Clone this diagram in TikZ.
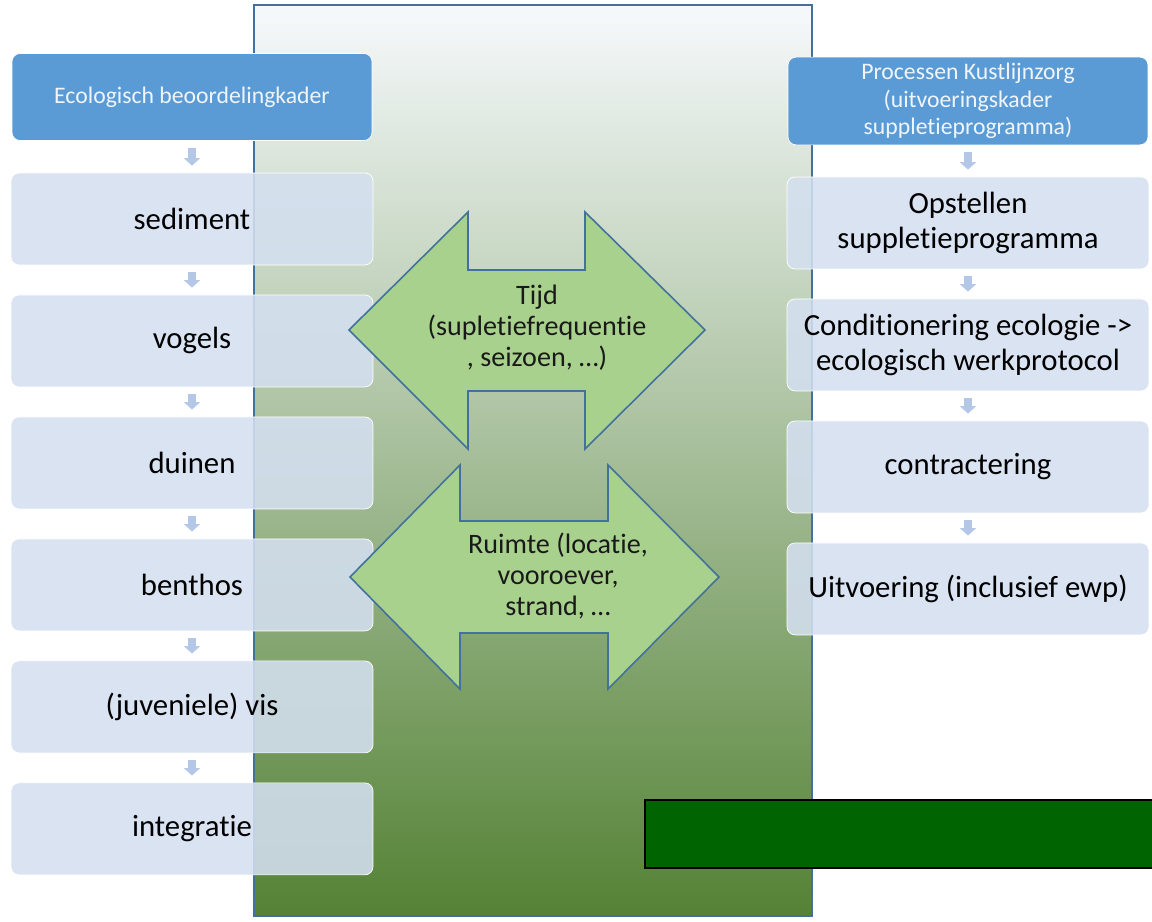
\documentclass[tikz,border=0pt]{standalone}
\usepackage{fontspec}
\setmainfont{Carlito}[RawFeature={-liga;-clig;-calt;-dlig}]
\usepackage {tikz}
\usetikzlibrary {positioning,arrows.meta}
\definecolor{kopblauw}{RGB}{91,155,213}
\definecolor{vakblauw}{RGB}{212,223,240}
\definecolor{pijlblauw}{RGB}{180,199,231}
\definecolor{lichtgroen}{RGB}{169,209,142}
\definecolor{randblauw}{RGB}{65,113,156}
\definecolor{bgtop}{RGB}{246,249,252}
\definecolor{bgmid}{RGB}{194,205,192}
\definecolor{bgbot}{RGB}{84,130,53}
\definecolor{donkergroen}{RGB}{0,100,0}

\begin{document}
\begin{tikzpicture}[x=0.02cm,y=-0.02cm,node distance =2.44cm and 1cm ,on grid ,
    kop/.style ={ rectangle ,rounded corners=0.16cm ,fill=kopblauw ,
    draw=white , text=white!90!kopblauw , minimum width =7.2cm ,
    minimum height=1.74cm ,align=center ,font=\fontsize{13.5}{15.8}\selectfont},
    vak/.style ={ rectangle ,rounded corners=0.16cm ,fill=vakblauw ,
    fill opacity=0.88 ,text opacity=1 ,draw=white ,minimum width =7.24cm ,
    minimum height=1.84cm ,align=center ,font=\fontsize{17.5}{20}\selectfont},
    stap/.style={-{Triangle[width=0.32cm,length=0.15cm]} ,line width=0.16cm ,
    draw=pijlblauw ,shorten <=0.14cm ,shorten >=0.14cm},
    dubbel/.style={fill=lichtgroen ,draw=randblauw ,line width=0.9pt},
    pijltekst/.style={align=center ,text=black!90 ,font=\fontsize{16}{17.6}\selectfont}
    ]

    \useasboundingbox (0,0) rectangle (1152,922);
    \shade[top color=bgtop ,middle color=bgmid ,bottom color=bgbot] (254,5) rectangle (812,916);
    \draw[randblauw ,line width=1pt] (254,5) rectangle (812,916);

    % ecologie
    \node[kop] (eco) at (192,97) {Ecologisch beoordelingkader};
    \node[vak] (sed) [below = of eco] {sediment};
    \node[vak] (vog) [below = of sed] {vogels};
    \node[vak] (dui) [below = of vog] {duinen};
    \node[vak] (ben) [below = of dui] {benthos};
    \node[vak] (vis) [below = of ben] {(juveniele) vis};
    \node[vak] (int) [below = of vis] {integratie};
    \draw[stap] (eco) -- (sed);
    \draw[stap] (sed) -- (vog);
    \draw[stap] (vog) -- (dui);
    \draw[stap] (dui) -- (ben);
    \draw[stap] (ben) -- (vis);
    \draw[stap] (vis) -- (int);

    % kustlijnzorg
    \node[kop] (kust) at (968,101) {Processen Kustlijnzorg\\(uitvoeringskader\\suppletieprogramma)};
    \node[vak] (opst) [below = of kust] {Opstellen\\suppletieprogramma};
    \node[vak] (cond) [below = of opst] {Conditionering ecologie ->\\ecologisch werkprotocol};
    \node[vak] (contr) [below = of cond] {contractering};
    \node[vak] (uitv) [below = of contr] {Uitvoering (inclusief ewp)};
    \draw[stap] (kust) -- (opst);
    \draw[stap] (opst) -- (cond);
    \draw[stap] (cond) -- (contr);
    \draw[stap] (contr) -- (uitv);

    % tijd en ruimte
    \draw[dubbel] (349,330) -- (468,212) -- (468,270) -- (585,270) -- (585,212) -- (705,330)
      -- (585,449) -- (585,391) -- (468,391) -- (468,449) -- cycle;
    \node[pijltekst] (tijd) at (537,328) {Tijd\\(supletiefrequentie\\, seizoen, \ldots)};
    \draw[dubbel] (350,577) -- (460,465) -- (460,521) -- (608,521) -- (608,465) -- (719,577)
      -- (608,689) -- (608,633) -- (460,633) -- (460,689) -- cycle;
    \node[pijltekst] (ruimte) at (558,576) {Ruimte (locatie,\\vooroever,\\strand, \ldots};

    \draw[fill=donkergroen ,draw=black ,line width=1.2pt] (645,800) rectangle (1170,868);
    \end{tikzpicture}
\end{document}
